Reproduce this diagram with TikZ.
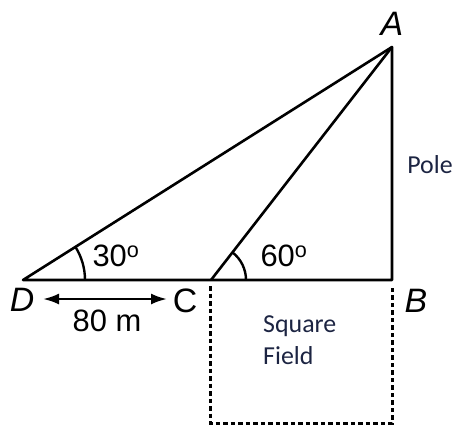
\documentclass[tikz,border=0pt]{standalone}
\usepackage{fontspec}
\setmainfont{Liberation Sans}
\newfontfamily\calfont{Carlito}
\usetikzlibrary{arrows.meta}
\definecolor{noteblue}{RGB}{28,36,66}
\tikzset{
  mainline/.style={line width=2.6bp, black},
  fieldline/.style={line width=3bp, black, dash pattern=on 4.5bp off 3bp},
  ptlabel/.style={font=\fontsize{34}{38}\selectfont\itshape, inner sep=0},
  uplabel/.style={font=\fontsize{34}{38}\selectfont, inner sep=0},
  numlabel/.style={font=\fontsize{31}{36}\selectfont, inner sep=0},
  note/.style={font=\calfont\fontsize{26}{33}\selectfont, text=noteblue, inner sep=0, align=left},
  anglearc/.style={line width=2.4bp, black}
}
\begin{document}
\begin{tikzpicture}[x=1bp,y=-1bp]
\useasboundingbox (0,0) rectangle (456,429);
\coordinate (D) at (23,280);
\coordinate (C) at (211,280);
\coordinate (B) at (392,280);
\coordinate (A) at (392,47);
\coordinate (F1) at (210,286);
\coordinate (F2) at (210,423);
\coordinate (F3) at (392,423);
\coordinate (F4) at (392,286);
% triangle
\draw[mainline, line join=round] (D) -- (A) -- (B) -- cycle;
\draw[mainline] (C) -- (A);
% angle arcs
\draw[anglearc] (D) ++(62,0) arc[start angle=0, end angle=-32.3, radius=62];
\draw[anglearc] (C) ++(35,0) arc[start angle=0, end angle=-52.2, radius=35];
% square field
\draw[fieldline] (F1) -- (F2) -- (F3) -- (F4);
% labels
\node[ptlabel] (lA) at (392,24) {A};
\node[ptlabel] (lD) at (22,300) {D};
\node[uplabel] (lC) at (185,301) {C};
\node[ptlabel] (lB) at (416,301) {B};
\node[numlabel] (a30) at (116,256) {30\textsuperscript{o}};
\node[numlabel] (a60) at (284,256) {60\textsuperscript{o}};
\node[numlabel] (dist) at (107,321) {80 m};
\coordinate (arL) at (43,299);
\coordinate (arR) at (167,299);
\draw[line width=2.4bp, {Latex[length=16bp,width=11bp]}-{Latex[length=16bp,width=11bp]}] (arL) -- (arR);
\node[note] (pole) at (430,165) {Pole};
\node[note, anchor=north west] (field) at (263,315) {Square\\Field};
\end{tikzpicture}
\end{document}
